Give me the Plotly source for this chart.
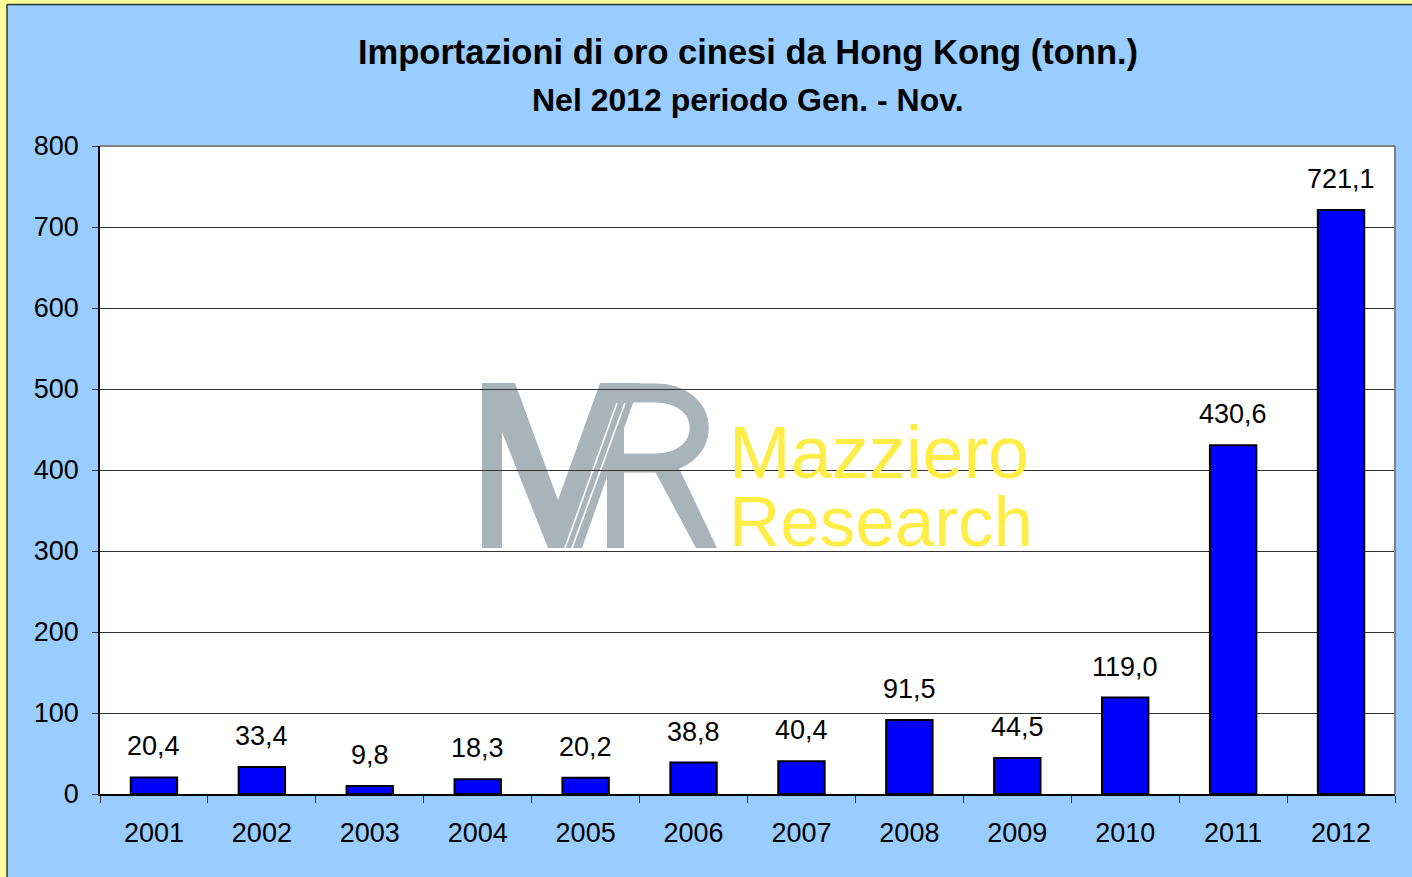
import plotly.graph_objects as go

years = ["2001", "2002", "2003", "2004", "2005", "2006", "2007", "2008", "2009", "2010", "2011", "2012"]
tonnes = [20.4, 33.4, 9.8, 18.3, 20.2, 38.8, 40.4, 91.5, 44.5, 119.0, 430.6, 721.1]
labels = [f"{v:.1f}".replace(".", ",") for v in tonnes]
y_ticks = [0, 100, 200, 300, 400, 500, 600, 700, 800]

title = "Importazioni di oro cinesi da Hong Kong (tonn.)"
subtitle = "Nel 2012 periodo Gen. - Nov."

W, H = 1412, 877
ML, MR_, MT, MB = 100, 17, 146, 83
PW, PH = W - ML - MR_, H - MT - MB


def px_x(p):
    return (p - ML) / PW


def px_y(p):
    return (H - MB - p) / PH


def path(cmds):
    """cmds: list of (letter, [(x,y),...]) in pixel coords -> paper path string."""
    out = []
    for letter, pts in cmds:
        s = letter
        if pts:
            s += " ".join(f"{px_x(x):.5f},{px_y(y):.5f}" for x, y in pts)
        out.append(s)
    return " ".join(out)


def poly(pts):
    return path([("M", [pts[0]])] + [("L", [p]) for p in pts[1:]] + [("Z", [])])


FONT = "Liberation Sans, Arial, sans-serif"

fig = go.Figure()
fig.add_trace(go.Bar(
    x=years, y=tonnes, width=0.43,
    marker=dict(color="#0000FF", line=dict(color="#000000", width=2)),
    hoverinfo="x+y",
))

annotations = []
for i, (v, lab) in enumerate(zip(tonnes, labels)):
    annotations.append(dict(x=i, y=v, text=lab, showarrow=False, xref="x", yref="y",
                            yanchor="bottom", yshift=14,
                            font=dict(size=27, color="#000000", family=FONT)))

WM_GRAY = "#A9B4BA"
WM_YEL = "rgb(255,237,70)"
annotations += [
    dict(x=0.5, y=px_y(52), xref="paper", yref="paper", text=f"<b>{title}</b>", showarrow=False,
         xanchor="center", yanchor="middle", font=dict(size=34.5, color="#000000", family=FONT)),
    dict(x=0.5, y=px_y(100), xref="paper", yref="paper", text=f"<b>{subtitle}</b>", showarrow=False,
         xanchor="center", yanchor="middle", font=dict(size=32, color="#000000", family=FONT)),
    dict(x=px_x(727), y=px_y(452), xref="paper", yref="paper", text="Mazziero", showarrow=False,
         xanchor="left", yanchor="middle", height=62, valign="middle",
         font=dict(size=74, color=WM_YEL, family=FONT)),
    dict(x=px_x(727), y=px_y(521), xref="paper", yref="paper", text="Research", showarrow=False,
         xanchor="left", yanchor="middle", height=62, valign="middle",
         font=dict(size=71, color=WM_YEL, family=FONT)),
]

logo_kw = dict(type="path", xref="paper", yref="paper", layer="below")
shapes = [
    # yellow outer strips
    dict(type="rect", xref="paper", yref="paper", x0=px_x(-5), x1=px_x(7), y0=px_y(H + 5), y1=px_y(-5),
         fillcolor="#FFFF99", line=dict(width=0), layer="below"),
    dict(type="rect", xref="paper", yref="paper", x0=px_x(-5), x1=px_x(W + 5), y0=px_y(4), y1=px_y(-5),
         fillcolor="#FFFF99", line=dict(width=0), layer="below"),
    # dark border of chart area
    dict(type="line", xref="paper", yref="paper", x0=px_x(7), x1=px_x(7), y0=px_y(H + 5), y1=px_y(4.5),
         line=dict(color="#333333", width=1.5), layer="below"),
    dict(type="line", xref="paper", yref="paper", x0=px_x(7), x1=px_x(W + 5), y0=px_y(4.5), y1=px_y(4.5),
         line=dict(color="#333333", width=1.5), layer="below"),
    # watermark logo "MR" (drawn under the gridlines)
    dict(**logo_kw, fillcolor=WM_GRAY, line=dict(width=0),
         path=poly([(482, 548), (502, 548), (502, 432), (548, 548), (582, 548), (640, 383),
                    (600, 383), (558, 500), (515, 383), (482, 383)])),
    dict(**logo_kw, fillcolor=WM_GRAY, line=dict(width=0),
         path=poly([(607, 548), (624, 548), (624, 383), (607, 383)])),
    dict(**logo_kw, fillcolor="rgba(0,0,0,0)", line=dict(color=WM_GRAY, width=19),
         path=path([("M", [(612, 393)]), ("L", [(655, 393)]),
                    ("C", [(714, 393), (714, 463), (655, 463)]), ("L", [(612, 463)])])),
    dict(**logo_kw, fillcolor=WM_GRAY, line=dict(width=0),
         path=poly([(652, 466), (678, 466), (717, 548), (696, 548)])),
    dict(**logo_kw, line=dict(color="#FFFFFF", width=1.6),
         path=path([("M", [(565, 548)]), ("L", [(617, 403)])])),
    dict(**logo_kw, line=dict(color="#FFFFFF", width=1.6),
         path=path([("M", [(572, 548)]), ("L", [(625, 403)])])),
    # gray top/right plot border
    dict(type="line", xref="paper", yref="paper", x0=0, x1=1, y0=1, y1=1,
         line=dict(color="#808080", width=2)),
    dict(type="line", xref="paper", yref="paper", x0=1, x1=1, y0=0, y1=1,
         line=dict(color="#808080", width=2)),
]

fig.update_layout(
    width=W, height=H,
    margin=dict(l=ML, r=MR_, t=MT, b=MB, pad=0),
    paper_bgcolor="#99CCFF",
    plot_bgcolor="#FFFFFF",
    showlegend=False,
    font=dict(family=FONT, color="#000000"),
    annotations=annotations,
    shapes=shapes,
)
fig.update_xaxes(
    type="category", range=[-0.5, len(years) - 0.5], automargin=False,
    tickson="boundaries", ticks="outside", ticklen=7, tickcolor="#333333",
    showline=True, linecolor="#000000", linewidth=1.5, showgrid=False, tickangle=0,
    tickfont=dict(size=27, color="#000000", family=FONT), ticklabelstandoff=14,
)
fig.update_yaxes(
    range=[0, 800], tickvals=y_ticks, ticks="outside", ticklen=6, tickcolor="#333333", automargin=False,
    showline=True, linecolor="#000000", linewidth=1.5,
    showgrid=True, gridcolor="#333333", gridwidth=1, zeroline=False,
    tickfont=dict(size=27, color="#000000", family=FONT), ticklabelstandoff=8,
)

fig.write_html("out.html", config={"displayModeBar": False},
               post_script="document.body.style.margin='0px';")
